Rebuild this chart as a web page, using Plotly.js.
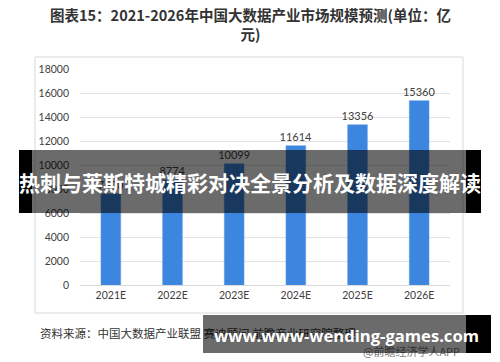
<!DOCTYPE html>
<html>
<head>
<meta charset="utf-8">
<script src="https://cdn.plot.ly/plotly-3.0.1.min.js"></script>
<style>
  html, body { margin:0; padding:0; background:#fff; }
  #wrap { position:relative; width:500px; height:362px; overflow:hidden; }
  #chart { width:500px; height:362px; }
  .ov { position:absolute; }
  .btxt { position:absolute; color:#fff; font-weight:bold; white-space:nowrap; }
</style>
</head>
<body>
<div id="wrap">
  <div id="chart"></div>
  <!-- overlay banner 1 -->
  <div class="ov" style="left:19px;top:150px;width:13px;height:63px;background:#000;"></div>
  <div class="ov" style="left:32px;top:150px;width:434px;height:63px;background:rgba(0,0,0,0.58);"></div>
  <div class="ov" style="left:466px;top:150px;width:15px;height:63px;background:#000;"></div>
  <div class="btxt" style="left:0;width:500px;top:168px;text-align:center;font-size:21px;line-height:28px;font-family:'Noto Sans CJK SC','Noto Sans',sans-serif;">热刺与莱斯特城精彩对决全景分析及数据深度解读</div>
  <!-- overlay banner 2 -->
  <div class="ov" style="left:203px;top:315px;width:263px;height:38px;background:rgba(0,0,0,0.58);"></div>
  <div class="ov" style="left:466px;top:315px;width:25px;height:38px;background:#000;"></div>
  <div class="btxt" style="left:214px;top:324px;font-size:16.6px;line-height:24px;font-family:'Open Sans','DejaVu Sans',sans-serif;">www.www-wending-games.com</div>
</div>
<script>
const categories = ['2021E','2022E','2023E','2024E','2025E','2026E'];
const values = [7600, 8774, 10099, 11614, 13356, 15360];
const yTicks = [0,2000,4000,6000,8000,10000,12000,14000,16000,18000];
const titleText = '图表15：2021-2026年中国大数据产业市场规模预测(单位：亿<br>元)';
const sourceText = '资料来源：中国大数据产业联盟 赛迪顾问 前瞻产业研究院整理';
const creditText = '@前瞻经济学人APP';

const L = 80, R = 50, T = 69, B = 77;
const PW = 500 - L - R, PH = 362 - T - B;
const px = x => (x - L) / PW;
const py = y => (362 - B - y) / PH;

const trace = {
  type: 'bar',
  x: categories,
  y: values,
  marker: { color: '#3c86df', line: { color: '#5b9ae6', width: 0.5 } },
  text: values.map(v => String(v)),
  textposition: 'outside',
  constraintext: 'none',
  cliponaxis: false,
  textfont: { family: 'Lato, "Liberation Sans", sans-serif', size: 11, color: '#404040' },
  hoverinfo: 'none'
};

const layout = {
  width: 500, height: 362,
  margin: { l: L, r: R, t: T, b: B, pad: 0 },
  paper_bgcolor: '#fff', plot_bgcolor: '#fff',
  showlegend: false,
  bargap: 0.68,
  font: { family: 'Lato, "Liberation Sans", sans-serif', size: 10, color: '#404040' },
  xaxis: {
    type: 'category',
    showgrid: false, zeroline: false,
    showline: true, linecolor: '#d9d9d9', linewidth: 1,
    ticks: '', ticklen: 0,
    tickfont: { family: 'Lato, "Liberation Sans", sans-serif', size: 10.5, color: '#404040' },
    fixedrange: true
  },
  yaxis: {
    range: [0, 18000],
    tickvals: yTicks,
    ticktext: yTicks.map(String),
    showgrid: true, gridcolor: '#e3e3e3', gridwidth: 1,
    zeroline: false, showline: false, ticks: '',
    ticklabelstandoff: 10,
    tickfont: { family: 'Lato, "Liberation Sans", sans-serif', size: 10.5, color: '#404040' },
    fixedrange: true
  },
  shapes: [
    { type: 'rect', xref: 'paper', yref: 'paper', layer: 'below',
      x0: px(35), x1: px(463), y0: py(313), y1: py(57),
      line: { color: '#d9d9d9', width: 1 }, fillcolor: 'rgba(0,0,0,0)' }
  ],
  annotations: [
    { text: titleText, xref: 'paper', yref: 'paper', x: px(250), y: py(24),
      xanchor: 'center', yanchor: 'middle', showarrow: false, align: 'center',
      font: { family: '"Noto Sans CJK SC", sans-serif', size: 14.5, color: '#333', weight: 'bold' } },
    { text: sourceText, xref: 'paper', yref: 'paper', x: px(38), y: py(333),
      xanchor: 'left', yanchor: 'middle', showarrow: false,
      font: { family: '"Noto Sans CJK SC", sans-serif', size: 11.5, color: '#333' } },
    { text: creditText, xref: 'paper', yref: 'paper', x: px(361), y: py(351),
      xanchor: 'left', yanchor: 'middle', showarrow: false,
      font: { family: '"Noto Sans CJK SC", sans-serif', size: 11, color: '#777' } }
  ]
};

Plotly.newPlot('chart', [trace], layout, { staticPlot: true, displayModeBar: false });
</script>
</body>
</html>
